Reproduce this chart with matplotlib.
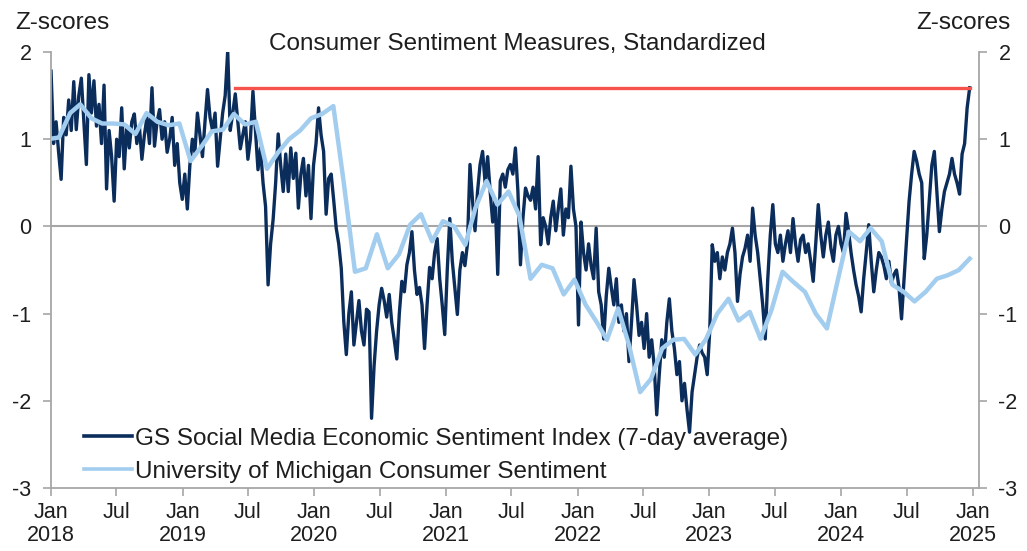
import matplotlib
matplotlib.use("Agg")
import matplotlib.pyplot as plt
import matplotlib.dates as mdates
from matplotlib.lines import Line2D
import pandas as pd
import numpy as np

plt.rcParams['font.family'] = ['Liberation Sans', 'DejaVu Sans']

# ---------------- data ----------------
title = "Consumer Sentiment Measures, Standardized"
gs_label = "GS Social Media Economic Sentiment Index (7-day average)"
um_label = "University of Michigan Consumer Sentiment"
y_label = "Z-scores"

gs_start = "2018-01-01"   # weekly observations
gs_2018 = [1.78, 0.95, 1.2, 0.85, 0.54, 1.25, 1.05, 1.45, 1.1, 1.66, 1.11, 1.5, 1.70, 1.2, 0.71, 1.74,
           1.3, 1.67, 1.15, 1.4, 0.95, 1.62, 0.43, 1.1, 0.8, 0.29, 1.0, 0.8, 1.36, 0.66, 1.15, 0.9,
           1.2, 1.29, 0.95, 1.15, 0.77, 1.05, 1.25, 0.95, 1.59, 0.92, 1.2, 1.34, 1.0, 1.2, 0.85, 1.0,
           1.25, 0.7, 0.95, 0.5]
gs_2019 = [0.31, 0.6, 0.2, 0.7, 1.0, 0.85, 1.3, 1.05, 0.8, 1.2, 1.57, 1.25, 1.1, 1.3, 0.69, 1.0,
           1.3, 1.5, 2.01, 1.1, 1.3, 1.52, 1.2, 0.89, 1.05, 1.2, 0.77, 1.0, 1.55, 1.1, 0.65, 0.9,
           0.5, 0.23, -0.67, -0.2, 0.08, 0.5, 1.06, 0.7, 0.4, 0.83, 0.4, 0.9, 0.55, 0.84, 0.21, 0.6,
           0.78, 0.35, 0.7, 0.09]
gs_2020 = [0.7, 0.95, 1.36, 1.05, 0.86, 0.14, 0.55, 0.6, 0.3, -0.02, -0.2, -0.48, -1.09, -1.47, -1.0, -0.75,
           -1.36, -1.1, -0.85, -1.2, -1.36, -0.95, -0.98, -2.2, -1.6, -1.2, -0.9, -0.71, -0.85, -1.04, -0.78, -1.1,
           -1.3, -1.52, -1.0, -0.63, -0.75, -0.44, -0.3, -0.06, -0.5, -0.78, -0.7, -0.9, -1.4, -0.9, -0.47, -0.6,
           -0.3, -0.14, -0.6, -0.9]
gs_2021 = [-1.24, -0.5, 0.09, -0.4, -0.7, -1.01, -0.5, -0.3, -0.45, -0.2, 0.71, 0.3, -0.05, 0.4, 0.71, 0.86,
           0.5, 0.8, 0.4, 0.05, 0.3, -0.55, 0.52, 0.6, 0.45, 0.65, 0.71, 0.6, 0.9, 0.4, -0.44, 0.1,
           0.44, 0.35, 0.3, 0.45, 0.2, 0.80, -0.21, 0.1, 0.0, -0.2, 0.1, 0.29, -0.05, 0.2, 0.43, -0.1,
           0.2, 0.1, 0.69, 0.2]
gs_2022 = [0.0, -1.13, 0.05, -0.3, -0.5, -0.2, -0.45, -0.6, -0.02, -0.75, -0.9, -1.29, -0.8, -0.48, -0.7, -0.9,
           -0.6, -1.1, -0.9, -1.2, -1.0, -1.55, -1.1, -0.61, -0.9, -1.25, -1.1, -1.4, -1.0, -1.5, -1.3, -1.6,
           -2.16, -1.7, -1.3, -1.5, -1.1, -0.83, -1.2, -1.4, -1.7, -1.55, -2.0, -1.8, -2.1, -2.36, -1.9, -1.7,
           -1.5, -1.36, -1.45, -1.5]
gs_2023 = [-1.7, -1.2, -0.21, -0.4, -0.3, -0.6, -0.35, -0.5, -0.3, -0.2, -0.02, -0.3, -0.86, -0.55, -0.35, -0.25,
           -0.1, -0.4, 0.21, -0.1, -0.3, -0.6, -0.9, -1.29, -0.6, -0.1, 0.25, -0.2, -0.3, -0.1, -0.4, -0.2,
           -0.05, -0.3, 0.09, -0.2, -0.4, -0.15, -0.1, -0.3, -0.2, -0.4, -0.63, -0.2, 0.25, -0.1, -0.35, -0.1,
           0.05, -0.25, -0.4, -0.1]
gs_2024 = [0.0, -0.2, -0.3, 0.15, -0.05, -0.3, -0.5, -0.67, -0.8, -0.98, -0.6, -0.3, 0.02, -0.4, -0.75, -0.5,
           -0.3, -0.35, -0.45, -0.6, -0.4, -0.65, -0.55, -0.5, -0.7, -1.06, -0.6, -0.15, 0.29, 0.6, 0.86, 0.75,
           0.6, 0.5, -0.37, -0.1, 0.3, 0.7, 0.86, 0.4, -0.06, 0.2, 0.4, 0.5, 0.6, 0.78, 0.6, 0.5,
           0.37, 0.83, 0.95, 1.36, 1.59]

um_start = "2017-12-01"   # monthly observations (Dec 2017 - Dec 2024)
um_values = [1.00,
             1.02, 1.30, 1.40, 1.24, 1.18, 1.18, 1.17, 1.06, 1.30, 1.20, 1.16, 1.18,
             0.75, 0.92, 1.09, 1.11, 1.29, 1.17, 1.20, 0.66, 0.85, 1.00, 1.10, 1.24,
             1.29, 1.38, 0.50, -0.52, -0.48, -0.09, -0.48, -0.32, 0.02, 0.14, -0.17, 0.06,
             0.00, -0.21, 0.21, 0.52, 0.25, 0.40, 0.12, -0.60, -0.44, -0.48, -0.78, -0.61,
             -0.90, -1.10, -1.30, -0.94, -1.36, -1.90, -1.75, -1.40, -1.30, -1.29, -1.47, -1.29,
             -1.00, -0.83, -1.08, -0.98, -1.29, -0.95, -0.52, -0.64, -0.75, -1.00, -1.17, -0.62,
             -0.06, -0.17, -0.02, -0.17, -0.67, -0.75, -0.86, -0.75, -0.60, -0.56, -0.50, -0.37]

ref_level = 1.59
ref_start = "2019-05-26"

y_ticks = [-3, -2, -1, 0, 1, 2]
x_tick_labels = ["Jan\n2018", "Jul", "Jan\n2019", "Jul", "Jan\n2020", "Jul", "Jan\n2021", "Jul",
                 "Jan\n2022", "Jul", "Jan\n2023", "Jul", "Jan\n2024", "Jul", "Jan\n2025"]

# ---------------- build ----------------
gs_values = gs_2018 + gs_2019 + gs_2020 + gs_2021 + gs_2022 + gs_2023 + gs_2024
gs_dates = pd.date_range(gs_start, periods=len(gs_values), freq="7D")
um_dates = pd.date_range(um_start, periods=len(um_values), freq="MS") + pd.Timedelta(days=22)

NAVY = "#0b2d5c"
LIGHT = "#a3cdee"
RED = "#f5534c"
GRAY = "#a6a6a6"
TXT = "#1e1e1e"
BIG = 17.5

fig = plt.figure(figsize=(10.27, 5.51), dpi=100)
ax = fig.add_axes([0.0497, 0.1143, 0.9036, 0.7913])

ax.axhline(0, color=GRAY, lw=1.5, zorder=1)
ax.plot(gs_dates, gs_values, color=NAVY, lw=2.4, zorder=2, solid_joinstyle="round")
ax.plot(um_dates, um_values, color=LIGHT, lw=3.2, zorder=3, solid_joinstyle="round")
ax.plot([pd.Timestamp(ref_start), gs_dates[-1]], [ref_level, ref_level], color=RED, lw=2.4, zorder=4)

ax.set_ylim(-3, 2)
ax.set_xlim(pd.Timestamp("2018-01-01"), pd.Timestamp("2025-01-18"))

xt = pd.date_range("2018-01-01", "2025-01-01", freq="6MS")
ax.set_xticks(xt)
ax.set_xticklabels(x_tick_labels)
ax.set_yticks(y_ticks)
ax.set_yticklabels([str(v) for v in y_ticks])

for s in ["left", "right", "bottom"]:
    ax.spines[s].set_color(GRAY)
    ax.spines[s].set_linewidth(1.3)
ax.spines["top"].set_visible(False)

ax.tick_params(axis="y", which="both", left=True, right=True, labelleft=True, labelright=True,
               direction="out", length=6, width=1.2, color=GRAY, labelsize=15.5, labelcolor=TXT, pad=8)
ax.tick_params(axis="x", direction="out", length=6, width=1.2, color=GRAY, labelsize=15.5,
               labelcolor=TXT, pad=4)
for lab in ax.get_xticklabels():
    lab.set_linespacing(1.1)

fig.text(0.504, 0.92, title, ha="center", va="center", fontsize=BIG, color=TXT)
fig.text(0.061, 0.958, y_label, ha="center", va="center", fontsize=BIG, color=TXT)
fig.text(0.938, 0.958, y_label, ha="center", va="center", fontsize=BIG, color=TXT)

handles = [Line2D([], [], color=NAVY, lw=2.6), Line2D([], [], color=LIGHT, lw=2.6)]
leg = ax.legend(handles, [gs_label, um_label], loc="lower left", bbox_to_anchor=(0.017, -0.027),
                frameon=False, fontsize=BIG, handlelength=2.0, handletextpad=0.12,
                labelspacing=0.45, borderaxespad=0.3)
for t in leg.get_texts():
    t.set_color(TXT)

fig.savefig("out.png", dpi=100)
